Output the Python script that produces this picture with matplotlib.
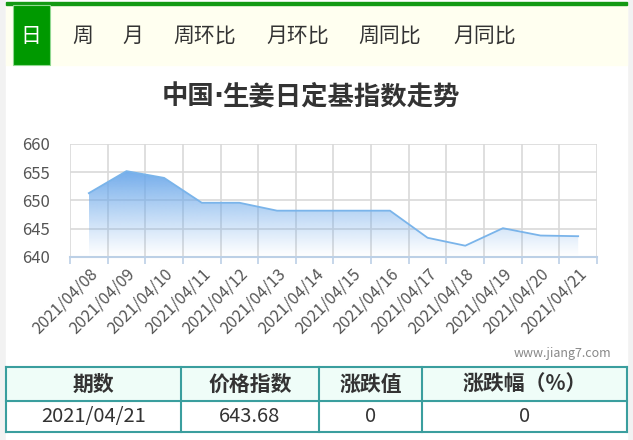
import numpy as np
import matplotlib
matplotlib.use("Agg")
import matplotlib.pyplot as plt
from matplotlib.patches import Rectangle, Polygon

plt.rcParams['font.family'] = ['Noto Sans CJK SC', 'DejaVu Sans']

dates = ["2021/04/08", "2021/04/09", "2021/04/10", "2021/04/11", "2021/04/12",
         "2021/04/13", "2021/04/14", "2021/04/15", "2021/04/16", "2021/04/17",
         "2021/04/18", "2021/04/19", "2021/04/20", "2021/04/21"]
values = [651.3, 655.2, 654.0, 649.6, 649.6, 648.2, 648.2, 648.2, 648.2,
          643.4, 642.0, 645.1, 643.8, 643.68]
yticks = [640, 645, 650, 655, 660]

tabs = ["日", "周", "月", "周环比", "月环比", "周同比", "月同比"]
tab_x = [31, 83, 133, 205, 298, 390, 485]

title_a, title_dot, title_b = "中国", "·", "生姜日定基指数走势"
header = ["期数", "价格指数", "涨跌值", "涨跌幅（%）"]
row = ["2021/04/21", "643.68", "0", "0"]
col_edges = [6, 181, 319, 422, 627]

W, H = 633, 440
fig = plt.figure(figsize=(W / 100, H / 100), dpi=100)

# background layer in pixel coords
bg = fig.add_axes([0, 0, 1, 1])
bg.set_xlim(0, W)
bg.set_ylim(H, 0)
bg.axis("off")
bg.add_patch(Rectangle((0, 0), W, H, color="#f2f2f2", zorder=0))
bg.add_patch(Rectangle((6, 0), 621, H, color="white", zorder=1))

# tab bar
bg.add_patch(Rectangle((6, 5), 621, 60, color="#fffff0", zorder=2))
bg.add_patch(Rectangle((6, 2), 621, 3, color="#139a13", zorder=3))
bg.add_patch(Rectangle((13, 5), 37, 60, color="#009900", zorder=3,
                       ec="#8fd88f", lw=0.8))
for i, (t, x) in enumerate(zip(tabs, tab_x)):
    bg.text(x, 36, t, ha="center", va="center", fontsize=15,
            color="white" if i == 0 else "#333333", zorder=4)

# title (narrow middle dot like the original)
bg.text(214, 97, title_a, ha="right", va="center", fontsize=19,
        fontweight="bold", color="#333333", zorder=4)
bg.text(218, 97, title_dot, ha="center", va="center", fontsize=19,
        fontweight="bold", color="#333333", zorder=4, family="DejaVu Sans")
bg.text(222, 97, title_b, ha="left", va="center", fontsize=19,
        fontweight="bold", color="#333333", zorder=4)

# watermark
bg.text(611, 353, "www.jiang7.com", ha="right", va="center", fontsize=9,
        color="#888888", zorder=4)

# table
top, mid, bot = 367, 401, 432
bg.add_patch(Rectangle((col_edges[0], top), col_edges[-1] - col_edges[0], mid - top,
                       color="#effdf8", zorder=2))
tc = "#3a9e9e"
for yy in (top, mid, bot):
    bg.plot([col_edges[0], col_edges[-1]], [yy, yy], color=tc, lw=1.5, zorder=3)
for xx in col_edges:
    bg.plot([xx, xx], [top, bot], color=tc, lw=1.5, zorder=3)
for i in range(4):
    cx = (col_edges[i] + col_edges[i + 1]) / 2
    bg.text(cx, (top + mid) / 2, header[i], ha="center", va="center",
            fontsize=15, fontweight="bold", color="#333333", zorder=4)
    bg.text(cx, (mid + bot) / 2, row[i], ha="center", va="center",
            fontsize=14.5, color="#333333", zorder=4)

# chart
ax = fig.add_axes([70 / W, 1 - 257 / H, 527 / W, 113 / H])
ax.set_facecolor("none")
x = np.arange(len(dates))
ax.set_xlim(-0.5, len(dates) - 0.5)
ax.set_ylim(640, 660)

# gradient area
grad = np.linspace(0, 1, 256)
top_val = max(values)
img = np.zeros((256, 1, 4))
img[:, 0, :3] = np.array([0x6c, 0xa8, 0xea]) / 255
img[:, 0, 3] = grad ** 1.1 * 0.95
im = ax.imshow(img, extent=[x[0], x[-1], 640, top_val], origin="lower",
               aspect="auto", zorder=1, interpolation="bilinear")
poly = Polygon(np.vstack([[x[0], 640], np.column_stack([x, values]), [x[-1], 640]]),
               closed=True, fc="none", ec="none")
ax.add_patch(poly)
im.set_clip_path(poly)
ax.plot(x, values, color="#7ab4ea", lw=1.3, zorder=3)

ax.set_yticks(yticks)
ax.set_yticklabels([str(v) for v in yticks], fontsize=12, color="#555555")
ax.set_xticks(np.arange(-0.5, len(dates), 1.0))
ax.set_xticklabels([])
ax.set_xticks(x, minor=True)
ax.set_xticklabels(dates, minor=True, rotation=45, ha="right", va="top",
                   rotation_mode="anchor", fontsize=11.7, color="#555555")
ax.tick_params(axis="x", which="minor", length=0, pad=6)
ax.tick_params(axis="x", which="major", length=5, color="#bcd0e6", width=1.2)
ax.tick_params(axis="y", length=0, pad=14.4)
ax.grid(True, which="major", color="#d9d9d9", lw=1.2, zorder=0)
for s in ["left", "right", "top"]:
    ax.spines[s].set_visible(False)
ax.spines["bottom"].set_color("#bcd0e6")
ax.spines["bottom"].set_linewidth(1.5)
ax.spines["bottom"].set_zorder(4)
ax.set_axisbelow(True)

fig.savefig("out.png", dpi=100)
